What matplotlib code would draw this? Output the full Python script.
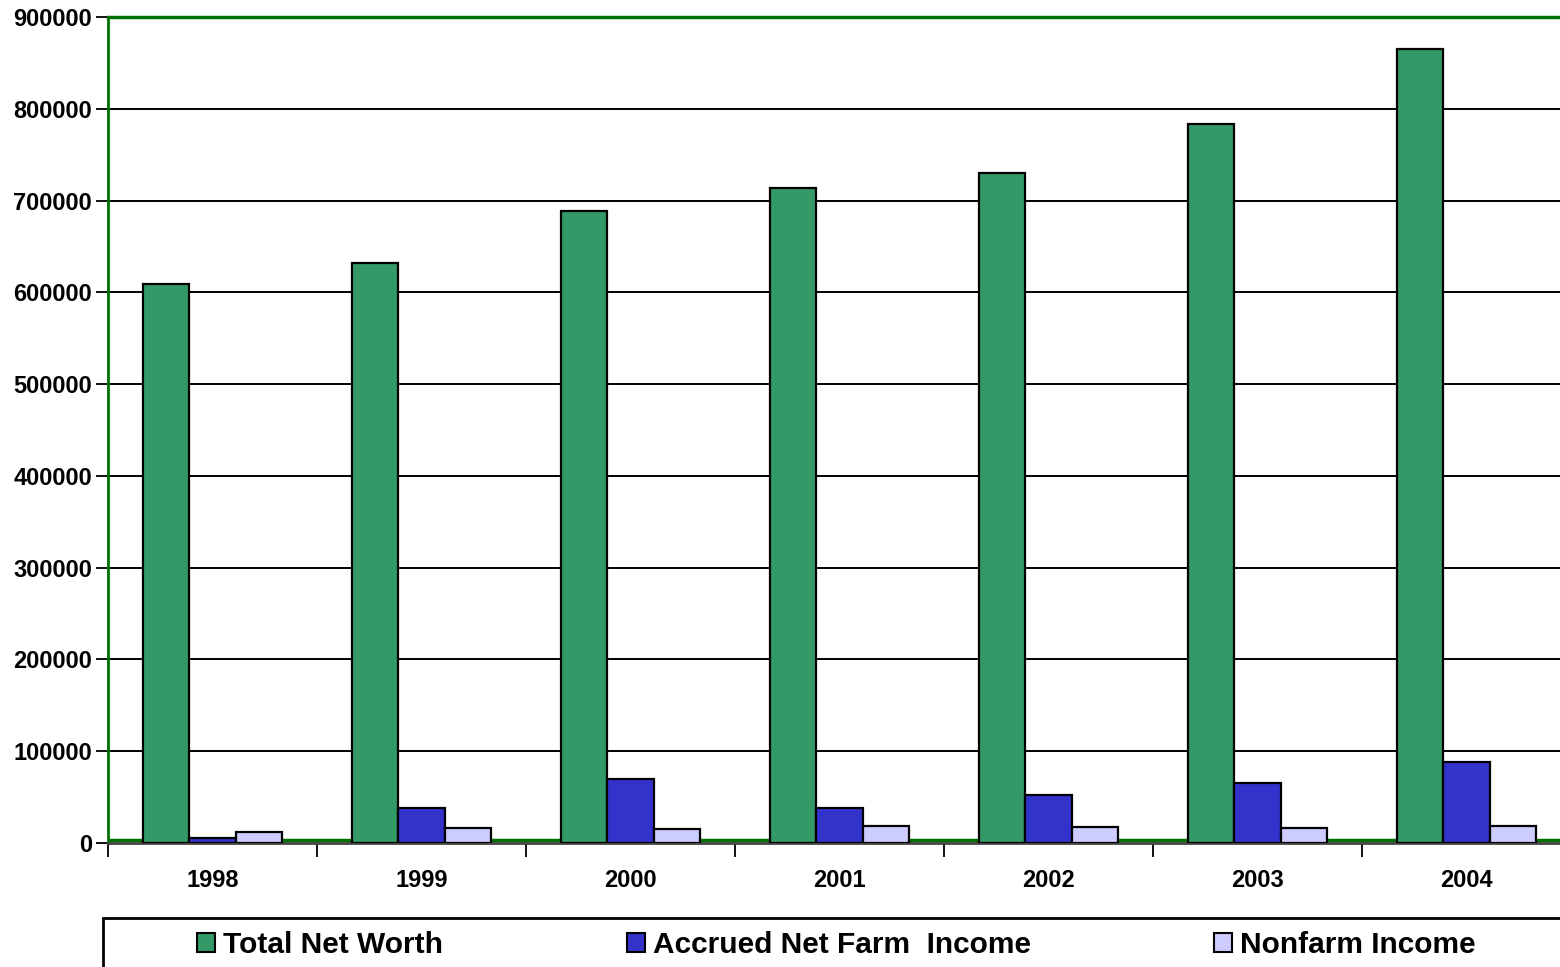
import matplotlib
matplotlib.use("Agg")
import matplotlib.pyplot as plt
from matplotlib.patches import Rectangle, Patch
import numpy as np

years = ["1998", "1999", "2000", "2001", "2002", "2003", "2004"]
net_worth = [609000, 632000, 689000, 714000, 730000, 783000, 865000]
accrued_income = [5000, 38000, 70000, 38000, 52000, 65000, 88000]
nonfarm_income = [12000, 16000, 15000, 18000, 17000, 16000, 19000]
series_names = ["Total Net Worth", "Accrued Net Farm  Income", "Nonfarm Income"]
y_ticks = list(range(0, 900001, 100000))

GREEN = "#339966"
BLUE = "#3333cc"
LAV = "#ccccff"
DKGREEN = "#007000"

plt.rcParams['font.family'] = ['Liberation Sans', 'DejaVu Sans']
plt.rcParams['font.weight'] = 'bold'

W, H = 1560, 967
fig = plt.figure(figsize=(W / 100, H / 100), dpi=100)
ax = fig.add_axes([108 / W, 1 - 843 / H, 1463 / W, 826 / H])

x = np.arange(len(years))
bw = 0.222
for vals, off, col in [(net_worth, -bw, GREEN), (accrued_income, 0, BLUE), (nonfarm_income, bw, LAV)]:
    ax.bar(x + off, vals, bw, color=col, edgecolor="black", linewidth=1.6, zorder=3)

# gridlines and green baseline
for v in y_ticks[1:-1]:
    ax.axhline(v, color="black", lw=1.4, zorder=1)
ax.axhline(3300, color=DKGREEN, lw=2.5, zorder=2)

ax.set_xlim(-0.5, len(years) - 0.5)
ax.set_ylim(0, 900000)

ax.set_yticks(y_ticks)
ax.set_yticklabels([str(v) for v in y_ticks], fontsize=17, fontweight="bold")
ax.tick_params(axis="y", length=8.5, width=1.3, pad=3, color="black")

ax.set_xticks(np.arange(len(years) + 1) - 0.5)
ax.set_xticklabels([])
ax.tick_params(axis="x", which="major", length=10, width=1.3, color="black")
ax.set_xticks(x, minor=True)
ax.set_xticklabels(years, minor=True, fontsize=17, fontweight="bold")
ax.tick_params(axis="x", which="minor", length=0, pad=19)

ax.spines["left"].set_color(DKGREEN)
ax.spines["left"].set_linewidth(2)
ax.spines["top"].set_color(DKGREEN)
ax.spines["top"].set_linewidth(2.5)
ax.spines["bottom"].set_color("#444444")
ax.spines["bottom"].set_linewidth(2)
ax.spines["right"].set_visible(False)

# legend frame running off the page
fig.patches.append(Rectangle((103 / W, -0.05), 0.95, 0.05 + 1 - 918 / H,
                             transform=fig.transFigure, fill=False,
                             edgecolor="black", lw=2))

handles = [Patch(facecolor=c, edgecolor="black", lw=1.5) for c in (GREEN, BLUE, LAV)]
fig.legend(handles, series_names, ncol=3, loc="center left",
           bbox_to_anchor=(197 / W, 1 - 945 / H), frameon=False,
           prop={"size": 21.5, "weight": "bold"},
           handlelength=0.6, handleheight=0.6, handletextpad=0.27,
           columnspacing=6.15, borderpad=0, borderaxespad=0)

fig.savefig("out.png", dpi=100)
